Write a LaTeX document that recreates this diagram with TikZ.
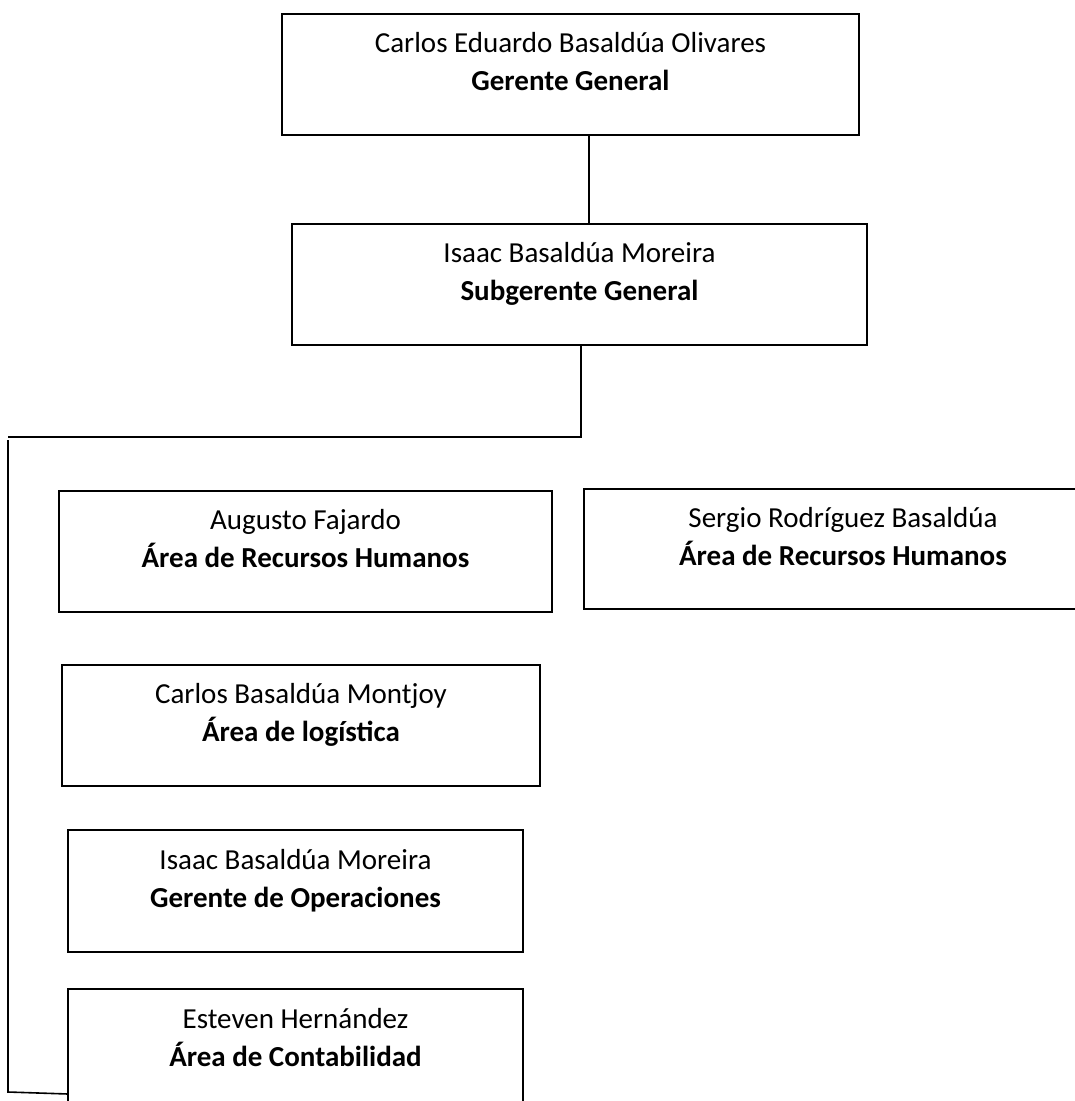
\documentclass[tikz,border=0pt]{standalone}
\usepackage{fontspec}
\setmainfont{Carlito}
\begin{document}
\begin{tikzpicture}[x=1pt,y=-1pt,
  box/.style={draw=black, line width=1.6pt, rectangle, inner sep=0pt},
  nm/.style={anchor=base, inner sep=0pt, font=\fontsize{29}{36}\selectfont},
  rl/.style={anchor=base, inner sep=0pt, font=\fontsize{29}{36}\selectfont\bfseries},
  conn/.style={draw=black, line width=1.6pt}]
\useasboundingbox (0,0) rectangle (1075,1101);
\clip (0,0) rectangle (1075,1101);
% boxes
\node[box, minimum width=577pt, minimum height=121pt] (b1) at (570.5,74.5) {};
\node[box, minimum width=575pt, minimum height=121pt] (b2) at (579.5,284.5) {};
\node[box, minimum width=493pt, minimum height=121pt] (b3) at (305.5,551.5) {};
\node[box, minimum width=518pt, minimum height=120pt] (b4) at (843,549) {};
\node[box, minimum width=478pt, minimum height=121pt] (b5) at (301,725.5) {};
\node[box, minimum width=455pt, minimum height=122pt] (b6) at (295.5,891) {};
\node[box, minimum width=455pt, minimum height=122pt] (b7) at (295.5,1050) {};
% texts
\node[nm] (n1) at ([yshift=-39pt]b1.north) {Carlos Eduardo Basaldúa Olivares};
\node[rl] (r1) at ([yshift=-77pt]b1.north) {Gerente General};
\node[nm] (n2) at ([yshift=-39pt]b2.north) {Isaac Basaldúa Moreira};
\node[rl] (r2) at ([yshift=-77pt]b2.north) {Subgerente General};
\node[nm] (n3) at ([yshift=-39pt]b3.north) {Augusto Fajardo};
\node[rl] (r3) at ([yshift=-77pt]b3.north) {Área de Recursos Humanos};
\node[nm] (n4) at ([yshift=-39pt]b4.north) {Sergio Rodríguez Basaldúa};
\node[rl] (r4) at ([yshift=-77pt]b4.north) {Área de Recursos Humanos};
\node[nm] (n5) at ([yshift=-39pt]b5.north) {Carlos Basaldúa Montjoy};
\node[rl] (r5) at ([yshift=-77pt]b5.north) {Área de logística};
\node[nm] (n6) at ([yshift=-40pt]b6.north) {Isaac Basaldúa Moreira};
\node[rl] (r6) at ([yshift=-78pt]b6.north) {Gerente de Operaciones};
\node[nm] (n7) at ([yshift=-40pt]b7.north) {Esteven Hernández};
\node[rl] (r7) at ([yshift=-78pt]b7.north) {Área de Contabilidad};
% connectors
\coordinate (c1) at (589,0);
\draw[conn] (b1.south -| c1) -- (b2.north -| c1);
\coordinate (busR) at (581,437);
\coordinate (busL) at (8,437);
\draw[conn] (b2.south -| busR) -- (busR) -- (busL);
\coordinate (vTop) at (8,440);
\coordinate (vBot) at (8,1092);
\coordinate (vEnd) at (68,1094);
\draw[conn] (vTop) -- (vBot) -- (vEnd);
\end{tikzpicture}
\end{document}
